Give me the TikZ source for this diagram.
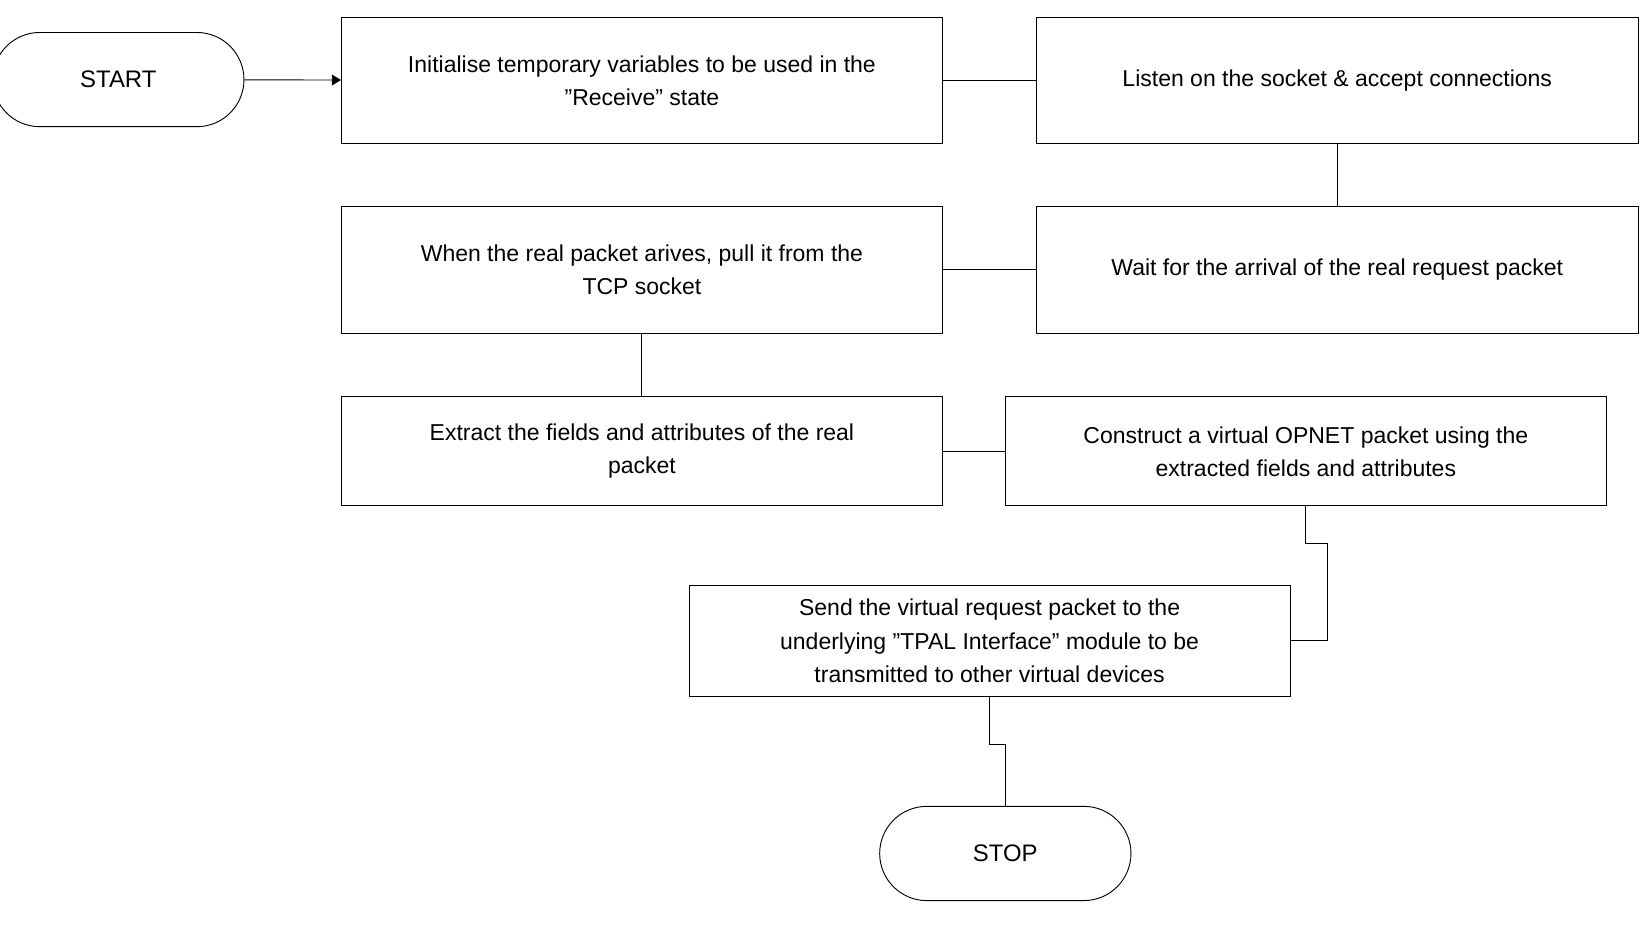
\documentclass[tikz,border=0pt]{standalone}
\usepackage{fontspec}
\setmainfont{Liberation Sans}
\usetikzlibrary{arrows.meta}
\tikzset{
  stage/.style={draw, align=center, font=\fontsize{12.5}{18}\selectfont},
  term/.style={draw, rounded corners=0.9cm, minimum width=4.8cm, minimum height=1.8cm, font=\fontsize{13}{18}\selectfont},
}
\begin{document}
\begin{tikzpicture}[x=0.02cm, y=-0.02cm, line width=0.5pt]
		\useasboundingbox (0,0) rectangle (1568,892);
		
		\node[term] (start) at (113,76) {START};
		\node[stage, minimum width=11.48cm, minimum height=2.4cm] (init) at (613,77) {Initialise temporary variables to be used in the\\"Receive" state};
		\node[stage, minimum width=11.5cm, minimum height=2.4cm] (listen) at (1277,77) {Listen on the socket \& accept connections};
		
		\node[stage, minimum width=11.5cm, minimum height=2.42cm] (wait) at (1277,257.5) {Wait for the arrival of the real request packet};
		\node[stage, minimum width=11.48cm, minimum height=2.42cm] (pull) at (613,257.5) {When the real packet arives, pull it from the\\TCP socket};
		
		\node[stage, minimum width=11.48cm, minimum height=2.08cm] (extract) at (613,431) {Extract the fields and attributes of the real\\packet};
		\node[stage, minimum width=11.48cm, minimum height=2.08cm] (build) at (1247,431) {Construct a virtual OPNET packet using the\\extracted fields and attributes};
		
		\node[stage, minimum width=11.48cm, minimum height=2.12cm] (send) at (945,612) {Send the virtual request packet to the\\underlying "TPAL Interface" module to be\\transmitted to other virtual devices};
		\node[term] (stop) at (960,815) {STOP};
		
		\draw[-{Triangle[length=5pt,width=6pt]}] (start) -- (init);
		\draw (init) -- (listen);
		\draw (listen) -- (wait);
		\draw (wait) -- (pull);
		\draw (pull) -- (extract);
		\draw (extract) -- (build);
		\draw (build.south) -- ++(0,36) -| (1268,612) -- (send.east);
		\draw (send.south) -- ++(0,45) -| (stop.north);
	\end{tikzpicture}
\end{document}
